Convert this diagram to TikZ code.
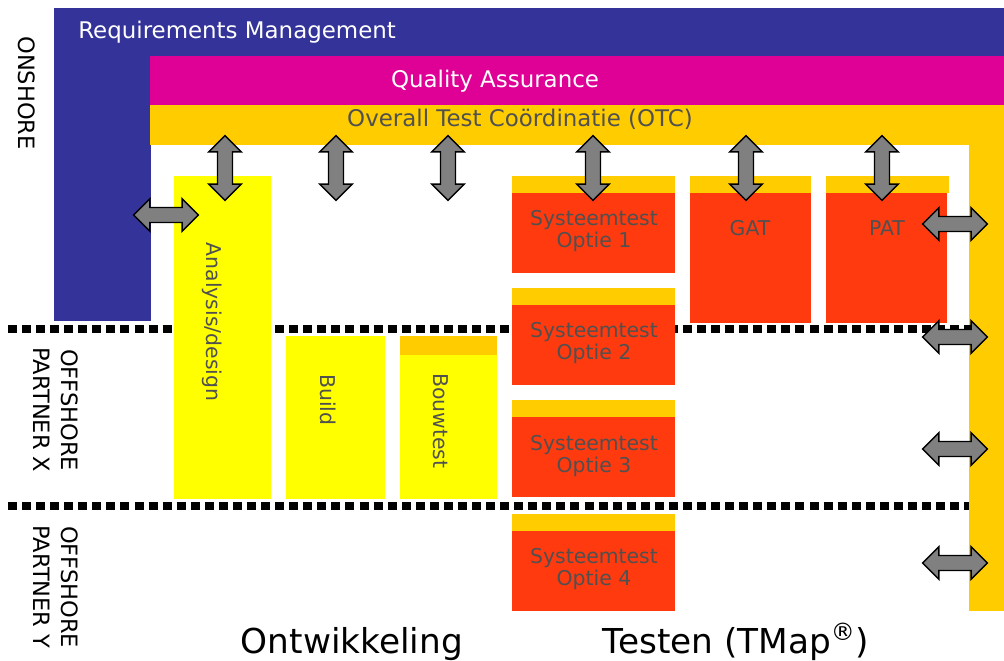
\documentclass[tikz,border=0pt]{standalone}
\usepackage{fontspec}
\setmainfont{DejaVu Sans}
\usetikzlibrary{shapes.arrows}

\definecolor{rmblue}{HTML}{333399}
\definecolor{qapink}{HTML}{DF0096}
\definecolor{otcorange}{HTML}{FFCC00}
\definecolor{devyellow}{HTML}{FFFF00}
\definecolor{testred}{HTML}{FF3A0F}
\definecolor{labelgray}{HTML}{505050}

\tikzset{
    bandtext/.style = {anchor = base, inner sep = 0pt, font = \fontsize{16.3}{19}\selectfont},
    boxlabel/.style = {text = labelgray, align = center, inner sep = 0pt, font = \fontsize{14.5}{15.5}\selectfont},
    site/.style = {rotate = -90, align = center, inner sep = 0pt, font = \fontsize{16}{19.6}\selectfont},
    phase/.style = {anchor = base, inner sep = 0pt, font = \fontsize{24.4}{28}\selectfont},
    sitesep/.style = {line width = 5.7pt, dash pattern = on 6.4pt off 3.6pt},
    link/.style = {shape = double arrow, draw = black, fill = gray, line width = 1pt, inner sep = 0.17cm,
        minimum height = 1.62cm, minimum width = 0.8cm, double arrow head extend = 0.22cm}
}

\begin{document}
\begin{tikzpicture}[x = 0.025cm, y = -0.025cm]
    \useasboundingbox (0,0) rectangle (1004,661);

    % onshore frame
    \fill[rmblue] (54,8) rectangle (1004,56);
    \fill[rmblue] (54,56) rectangle (151,321);
    \fill[qapink] (150,56) rectangle (1004,105);
    \fill[otcorange] (150,105) rectangle (1004,145);
    \fill[otcorange] (969,145) rectangle (1004,611);

    % site borders
    \draw[sitesep] (8,329) -- (975,329);
    \draw[sitesep] (8,506) -- (969,506);

    % development
    \fill[devyellow] (174,176) rectangle (271,499);
    \fill[devyellow] (286,336) rectangle (385,499);
    \fill[otcorange] (400,336) rectangle (497,355);
    \fill[devyellow] (400,355) rectangle (497,499);

    % testing
    \foreach \top in {176, 288, 400, 514} {
        \fill[otcorange] (512,\top) rectangle (675,\top+17);
        \fill[testred] (512,\top+17) rectangle (675,\top+97);
    }
    \fill[otcorange] (690,176) rectangle (811,193);
    \fill[testred] (690,193) rectangle (811,323);
    \fill[otcorange] (826,176) rectangle (949,193);
    \fill[testred] (826,193) rectangle (947,323);

    % labels
    \node[bandtext, anchor = base west, text = white] (RM) at (78,39) {Requirements Management};
    \node[bandtext, text = white] (QA) at (495,88) {Quality Assurance};
    \node[bandtext, text = labelgray] (OTC) at (520,127) {Overall Test Coördinatie (OTC)};

    \node[site] (ON) at (27,93) {ONSHORE};
    \node[site] (PX) at (56,410) {OFFSHORE\\PARTNER X};
    \node[site] (PY) at (56,587) {OFFSHORE\\PARTNER Y};

    \node[boxlabel, rotate = -90] (AD) at (212,322) {Analysis/design};
    \node[boxlabel, rotate = -90] (BU) at (328,400) {Build};
    \node[boxlabel, rotate = -90] (BT) at (441,421) {Bouwtest};

    \node[boxlabel] (ST1) at (594,231) {Systeemtest\\Optie 1};
    \node[boxlabel] (ST2) at (594,343) {Systeemtest\\Optie 2};
    \node[boxlabel] (ST3) at (594,456) {Systeemtest\\Optie 3};
    \node[boxlabel] (ST4) at (594,569) {Systeemtest\\Optie 4};
    \node[boxlabel] (GAT) at (750,228) {GAT};
    \node[boxlabel] (PAT) at (887,228) {PAT};

    \node[phase] (DEV) at (352,653) {Ontwikkeling};
    \node[phase] (TST) at (736,653) {Testen (TMap\textsuperscript{®})};

    % links to the frame
    \foreach \x/\name in {225/v1, 336/v2, 448/v3, 593/v4, 746/v5, 882/v6}
        \node[link, rotate = 90] (\name) at (\x,168) {};
    \node[link] (h0) at (166,215) {};
    \foreach \y/\name in {224/h1, 337/h2, 449/h3, 563/h4}
        \node[link] (\name) at (955,\y) {};
\end{tikzpicture}
\end{document}
